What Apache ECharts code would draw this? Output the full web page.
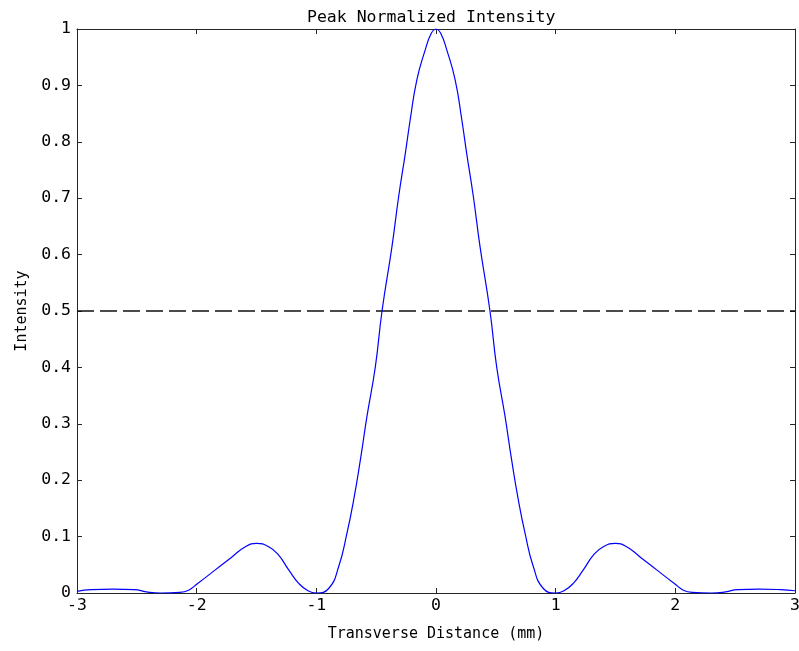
<!DOCTYPE html>
<html>
<head>
<meta charset="utf-8">
<script src="https://cdn.jsdelivr.net/npm/echarts@6/dist/echarts.min.js"></script>
<style>
  html, body { margin: 0; padding: 0; background: #fff; }
  #main { width: 799px; height: 651px; }
</style>
</head>
<body>
<div id="main"></div>
<script>
// values
var distance = [
  -3.0, -2.88, -2.7, -2.52, -2.42, -2.3, -2.14, -2.067, -1.997, -1.844,
  -1.705, -1.593, -1.5, -1.398, -1.315, -1.231, -1.147, -1.07, -1.0, -0.897,
  -0.813, -0.744, -0.688, -0.632, -0.577, -0.507, -0.451, -0.368, -0.312, -0.256,
  -0.215, -0.16, -0.09, -0.04, 0.0, 0.04, 0.09, 0.16, 0.215, 0.256,
  0.312, 0.368, 0.451, 0.507, 0.577, 0.632, 0.688, 0.744, 0.813, 0.897,
  1.0, 1.07, 1.147, 1.231, 1.315, 1.398, 1.5, 1.593, 1.705, 1.844,
  1.997, 2.067, 2.14, 2.3, 2.42, 2.52, 2.7, 2.88, 3.0
];
var intensity = [
  0.003, 0.006, 0.007, 0.006, 0.002, 0.0, 0.001, 0.005, 0.016, 0.041,
  0.064, 0.082, 0.088, 0.082, 0.067, 0.041, 0.017, 0.004, 0.0, 0.008,
  0.047, 0.106, 0.165, 0.236, 0.313, 0.401, 0.5, 0.614, 0.703, 0.78,
  0.84, 0.91, 0.963, 0.992, 1.0, 0.992, 0.963, 0.91, 0.84, 0.78,
  0.703, 0.614, 0.5, 0.401, 0.313, 0.236, 0.165, 0.106, 0.047, 0.008,
  0.0, 0.004, 0.017, 0.041, 0.067, 0.082, 0.088, 0.082, 0.064, 0.041,
  0.016, 0.005, 0.001, 0.0, 0.002, 0.006, 0.007, 0.006, 0.004
];
var halfLevelX = [-3, 3];
var halfLevelY = [0.5, 0.5];

var curve = distance.map(function (d, i) { return [d, intensity[i]]; });
var halfLine = halfLevelX.map(function (d, i) { return [d, halfLevelY[i]]; });

var font = 'DejaVu Sans Mono';
var axisColor = '#262626';

var chart = echarts.init(document.getElementById('main'));

chart.setOption({
  animation: false,
  backgroundColor: '#fff',
  title: {
    text: 'Peak Normalized Intensity',
    left: 302,
    top: 4,
    textStyle: { fontFamily: font, fontSize: 16.5, fontWeight: 'normal', color: '#000' }
  },
  grid: { left: 77, right: 4, top: 29, bottom: 58, outerBoundsMode: 'none', containLabel: false },
  xAxis: [{
    type: 'value', min: -3, max: 3, interval: 1, position: 'bottom',
    name: 'Transverse Distance (mm)', nameLocation: 'middle', nameGap: 34,
    nameTextStyle: { fontFamily: font, fontSize: 15, color: '#000' },
    axisLine: { onZero: false, lineStyle: { color: axisColor, width: 1 } },
    axisTick: { inside: true, length: 5, lineStyle: { color: axisColor } },
    axisLabel: { fontFamily: font, fontSize: 16.5, color: '#000', margin: 4 },
    splitLine: { show: false }
  }, {
    type: 'value', min: -3, max: 3, interval: 1, position: 'top',
    axisLine: { onZero: false, lineStyle: { color: axisColor, width: 1 } },
    axisTick: { inside: true, length: 5, lineStyle: { color: axisColor } },
    axisLabel: { show: false },
    splitLine: { show: false }
  }],
  yAxis: [{
    type: 'value', min: 0, max: 1, interval: 0.1, position: 'left',
    name: 'Intensity', nameLocation: 'middle', nameGap: 47,
    nameTextStyle: { fontFamily: font, fontSize: 15, color: '#000' },
    axisLine: { show: true, onZero: false, lineStyle: { color: axisColor, width: 1 } },
    axisTick: { show: true, inside: true, length: 5, lineStyle: { color: axisColor } },
    axisLabel: { fontFamily: font, fontSize: 16.5, color: '#000', margin: 6 },
    splitLine: { show: false }
  }, {
    type: 'value', min: 0, max: 1, interval: 0.1, position: 'right',
    axisLine: { show: true, onZero: false, lineStyle: { color: axisColor, width: 1 } },
    axisTick: { show: true, inside: true, length: 5, lineStyle: { color: axisColor } },
    axisLabel: { show: false },
    splitLine: { show: false }
  }],
  series: [{
    type: 'line',
    data: curve,
    smooth: 0.5,
    showSymbol: false,
    clip: true,
    lineStyle: { color: '#0000ff', width: 1.2 },
    z: 3
  }, {
    type: 'line',
    data: halfLine,
    showSymbol: false,
    lineStyle: { color: '#111', width: 1.5, type: [17, 6] },
    z: 2
  }]
});
</script>
</body>
</html>
